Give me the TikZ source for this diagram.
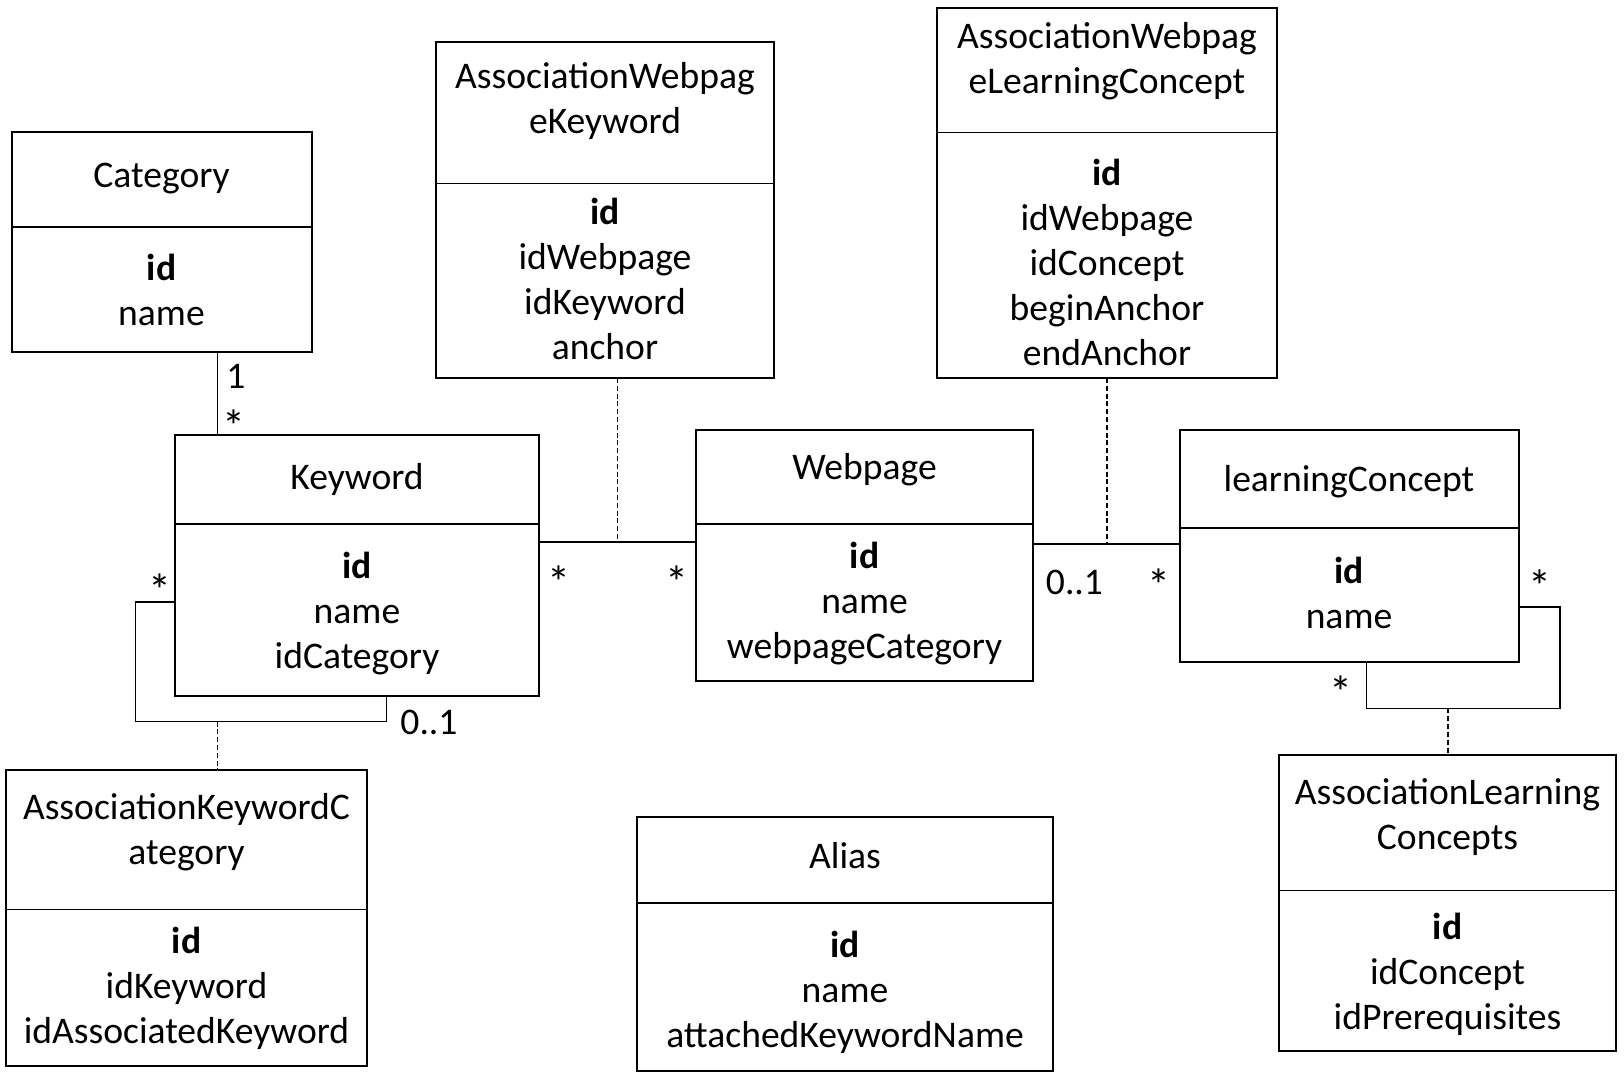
\documentclass[tikz,border=0pt]{standalone}
\usepackage{fontspec}
\setmainfont{Carlito}
\newcommand\classbox[6]{%
  \pgfmathsetmacro\cbw{(#4-#2)*0.5}%
  \pgfmathsetmacro\cbh{(#5-#3)*0.5}%
  \pgfmathsetmacro\cbx{(#2+#4)/2}%
  \pgfmathsetmacro\cby{(#3+#5)/2}%
  \node[cls, minimum width=\cbw pt, minimum height=\cbh pt] (#1) at (\cbx,\cby) {};
  \draw[divider] (#1.west |- 0,#6) -- (#1.east |- 0,#6);
}
\begin{document}
\begin{tikzpicture}[x=0.5pt,y=-0.5pt,
  cls/.style={draw, line width=1pt, inner sep=0, outer sep=0},
  divider/.style={line width=0.55pt},
  txt/.style={font=\fontsize{18.8}{22.5}\selectfont, align=center, inner sep=0},
  lbl/.style={font=\fontsize{18.8}{22.5}\selectfont, inner sep=0, anchor=base},
  starlbl/.style={font=\fontsize{23}{23}\selectfont, inner sep=0, anchor=base},
  assoc/.style={line width=0.55pt},
  dep/.style={line width=0.55pt, dash pattern=on 2.5pt off 1.4pt}]
\useasboundingbox[fill=white] (0,0) rectangle (1624,1080);

% class boxes
\classbox{cat}{11.5}{132.5}{311.5}{352}{227}
\classbox{awk}{436}{42.5}{773.5}{378}{183.5}
\classbox{awlc}{937}{8.5}{1277}{378}{132.5}
\classbox{kw}{175}{435}{538.5}{696}{524}
\classbox{wp}{696}{430}{1032.5}{681.5}{524}
\classbox{lc}{1179.5}{430}{1518.5}{662}{528}
\classbox{akc}{6}{769.5}{366.5}{1065.5}{909.5}
\classbox{alias}{637}{817}{1052.5}{1071}{903}
\classbox{alc}{1279}{755}{1615.5}{1051}{890.5}

% texts
\node[txt] (cat-t) at (161.5,179) {Category};
\node[txt] (cat-a) at (161.5,289.5) {\textbf{id}\\name};
\node[txt] (awk-t) at (605,101) {AssociationWebpag\\eKeyword};
\node[txt] (awk-a) at (605,279) {\textbf{id}\\idWebpage\\idKeyword\\anchor};
\node[txt] (awlc-t) at (1107,61) {AssociationWebpag\\eLearningConcept};
\node[txt] (awlc-a) at (1107,262) {\textbf{id}\\idWebpage\\idConcept\\beginAnchor\\endAnchor};
\node[txt] (kw-t) at (357,479.5) {Keyword};
\node[txt] (kw-a) at (357,614) {\textbf{id}\\name\\idCategory};
\node[txt] (wp-t) at (864.5,469.5) {Webpage};
\node[txt] (wp-a) at (864.5,604) {\textbf{id}\\name\\webpageCategory};
\node[txt] (lc-t) at (1349,481.5) {learningConcept};
\node[txt] (lc-a) at (1349,592.5) {\textbf{id}\\name};
\node[txt] (akc-t) at (186.5,832) {AssociationKeywordC\\ategory};
\node[txt] (akc-a) at (186.5,988) {\textbf{id}\\idKeyword\\idAssociatedKeyword};
\node[txt] (alias-t) at (845,856) {Alias};
\node[txt] (alias-a) at (845,992.5) {\textbf{id}\\name\\attachedKeywordName};
\node[txt] (alc-t) at (1447.5,817) {AssociationLearning\\Concepts};
\node[txt] (alc-a) at (1447.5,974.5) {\textbf{id}\\idConcept\\idPrerequisites};

% connectors
\coordinate (xc) at (217.5,0);
\draw[assoc] (cat.south -| xc) -- (kw.north -| xc);

\coordinate (ykw) at (0,542);
\draw[assoc] (kw.east |- ykw) -- (wp.west |- ykw);
\coordinate (mid1) at (617.5,542);
\draw[dep] (awk.south -| mid1) -- (mid1);

\coordinate (ywl) at (0,544);
\draw[assoc] (wp.east |- ywl) -- (lc.west |- ywl);
\coordinate (mid2) at (1107,544);
\draw[dep] (awlc.south -| mid2) -- (mid2);

\coordinate (kl1) at (135.5,602);
\coordinate (kl2) at (386.5,721.5);
\draw[assoc] (kw.west |- kl1) -- (kl1) |- (kl2) -- (kw.south -| kl2);
\coordinate (kl3) at (217.5,721.5);
\draw[dep] (kl3) -- (akc.north -| kl3);

\coordinate (ll1) at (1560,607);
\coordinate (ll2) at (1366.5,708.5);
\draw[assoc] (lc.east |- ll1) -- (ll1) |- (ll2) -- (lc.south -| ll2);
\coordinate (ll3) at (1448,708.5);
\draw[dep] (ll3) -- (alc.north -| ll3);

% multiplicities
\node[lbl] (m1) at (236,389) {1};
\node[starlbl] (m2) at (234,442.5) {*};
\node[starlbl] (m3) at (159.5,606.5) {*};
\node[lbl] (m4) at (429,734) {0..1};
\node[starlbl] (m5) at (559,599) {*};
\node[starlbl] (m6) at (676.5,599) {*};
\node[lbl] (m7) at (1074.5,595) {0..1};
\node[starlbl] (m8) at (1158.5,601.5) {*};
\node[starlbl] (m9) at (1540,602.5) {*};
\node[starlbl] (m10) at (1340.5,708.5) {*};
\end{tikzpicture}
\end{document}
